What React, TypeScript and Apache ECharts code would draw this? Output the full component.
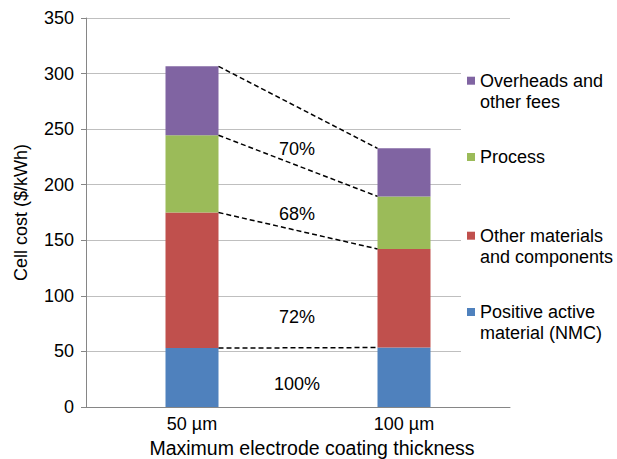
import React, { useEffect, useRef } from 'react';
import * as echarts from 'echarts';

const categories = ['50 µm', '100 µm'];
const seriesNames = [
  'Positive active material (NMC)',
  'Other materials and components',
  'Process',
  'Overheads and other fees',
];
const legendLabels = [
  'Positive active\nmaterial (NMC)',
  'Other materials\nand components',
  'Process',
  'Overheads and\nother fees',
];
const positiveActive = [53, 53.5];
const otherMaterials = [122, 88.7];
const processCost = [69.5, 47.3];
const overheads = [62, 43.2];
const reductionLabels = ['100%', '72%', '68%', '70%'];
const yTicks = { min: 0, max: 350, interval: 50 };

const colors = ['#4F81BD', '#C0504D', '#9BBB59', '#8064A2'];
const FONT = '"Liberation Sans", Arial, sans-serif';
const BAR_RATIO = 0.25;

export default function App() {
  const ref = useRef<HTMLDivElement>(null);
  useEffect(() => {
    if (!ref.current) return;
    const chart = echarts.init(ref.current, undefined, { renderer: 'svg' });
    const stacks = [positiveActive, otherMaterials, processCost, overheads];
    const tops: number[][] = [];
    let acc = [0, 0];
    stacks.forEach((s) => {
      acc = [acc[0] + s[0], acc[1] + s[1]];
      tops.push([0, acc[0], acc[1]]);
    });

    const legendTops = [280.5, 204.2, 146.5, 49.2];
    const legends = seriesNames.map((name, i) => {
      const multi = legendLabels[i].includes('\n');
      return {
        data: [name],
        left: 467,
        top: legendTops[i],
        orient: 'vertical',
        padding: 0,
        itemWidth: 8,
        itemHeight: 8,
        itemGap: 0,
        z: 20,
        icon: 'rect',
        selectedMode: false,
        formatter: () => (multi ? '\n' + legendLabels[i] : legendLabels[i]),
        textStyle: {
          fontFamily: FONT,
          fontSize: 18,
          color: '#000',
          lineHeight: 21,
        },
      };
    });

    const labelYs = [384, 316.7, 214, 149];
    const graphics: any[] = [
      {
        type: 'rect',
        z: 10,
        shape: { x: 461, y: 40, width: 156, height: 340 },
        style: { fill: '#fff' },
      },
      ...reductionLabels.map((t, i) => ({
        type: 'text',
        z: 30,
        x: 297,
        y: labelYs[i],
        style: {
          text: t,
          fontFamily: FONT,
          fontSize: 18,
          fill: '#000',
          align: 'center',
          verticalAlign: 'middle',
        },
      })),
    ];

    chart.setOption({
      animation: false,
      backgroundColor: '#fff',
      grid: {
        left: 86,
        right: 107,
        top: 18,
        bottom: 52,
        containLabel: false,
        outerBoundsMode: 'none',
      },
      legend: legends,
      graphic: graphics,
      xAxis: {
        type: 'category',
        data: categories,
        name: 'Maximum electrode coating thickness',
        nameLocation: 'middle',
        nameGap: 23,
        nameTextStyle: { fontFamily: FONT, fontSize: 19.5, color: '#000', padding: [0, 0, 0, 28] },
        axisLine: { lineStyle: { color: '#868686', width: 1 } },
        axisTick: { show: false },
        axisLabel: { fontFamily: FONT, fontSize: 18, color: '#000', margin: 8 },
      },
      yAxis: {
        type: 'value',
        min: yTicks.min,
        max: yTicks.max,
        interval: yTicks.interval,
        name: 'Cell cost ($/kWh)',
        nameLocation: 'middle',
        nameGap: 56,
        nameTextStyle: { fontFamily: FONT, fontSize: 18, color: '#000' },
        axisLine: { show: true, lineStyle: { color: '#868686', width: 1 } },
        axisTick: { show: true, length: 5, lineStyle: { color: '#868686' } },
        axisLabel: { fontFamily: FONT, fontSize: 18, color: '#000', margin: 12 },
        splitLine: { lineStyle: { color: '#BFBFBF', width: 1 } },
      },
      series: [
        ...stacks.map((s, i) => ({
          type: 'bar',
          name: seriesNames[i],
          stack: 'total',
          data: s,
          barWidth: `${BAR_RATIO * 100}%`,
          itemStyle: { color: colors[i] },
        })),
        {
          type: 'custom',
          name: 'connectors',
          data: tops,
          encode: { x: 0, y: [1, 2] },
          z: 5,
          renderItem: (params: any, api: any) => {
            const p1 = api.coord([0, api.value(1)]);
            const p2 = api.coord([1, api.value(2)]);
            const half = (api.size([1, 0])[0] * BAR_RATIO) / 2;
            return {
              type: 'line',
              shape: { x1: p1[0] + half, y1: p1[1], x2: p2[0] - half, y2: p2[1] },
              style: { stroke: '#000', lineWidth: 1.5, lineDash: [5, 3] },
            };
          },
        },
      ],
    });
    return () => chart.dispose();
  }, []);
  return (
    <div
      ref={ref}
      style={{ position: 'absolute', left: 0, top: 0, width: 617, height: 459 }}
    />
  );
}
